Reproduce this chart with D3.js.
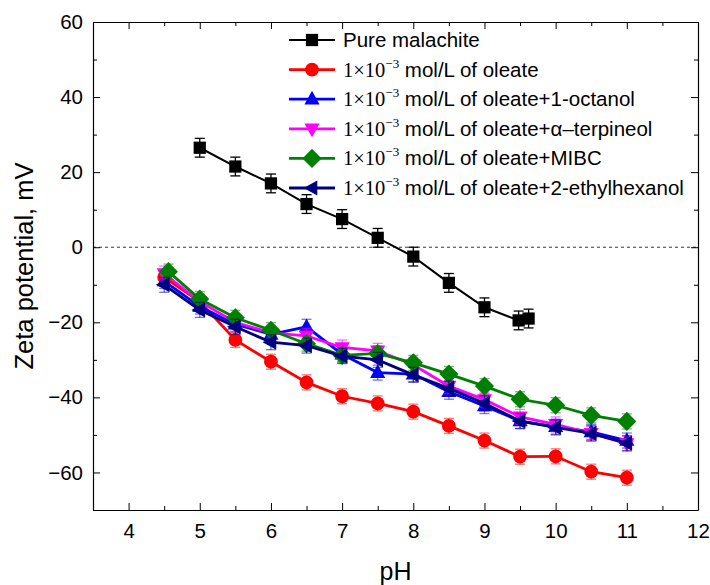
<!DOCTYPE html>
<html>
<head>
<meta charset="utf-8">
<script src="https://cdn.jsdelivr.net/npm/d3@7.9.0/dist/d3.min.js"></script>
<style>
  body { margin: 0; background: #fff; }
  svg text { font-family: Arial, "Liberation Sans", sans-serif; fill: #000; }
</style>
</head>
<body>
<svg id="chart" width="710" height="585"></svg>
<script>
// --- data ---
const seriesNames = [
  'Pure malachite',
  'oleate',
  'oleate+1-octanol',
  'oleate+\u03b1\u2013terpineol',
  'oleate+MIBC',
  'oleate+2-ethylhexanol'
];
const seriesColors = ['#000000', '#ff0000', '#0000ff', '#ff00ff', '#008000', '#000080'];
const seriesSymbols = ['square', 'circle', 'up', 'down', 'diamond', 'left'];

const phMalachite = [5, 5.5, 6, 6.5, 7, 7.5, 8, 8.5, 9, 9.48, 9.62];
const zetaMalachite = [26.5, 21.5, 17, 11.5, 7.5, 2.5, -2.5, -9.5, -16, -19.5, -19];

const phReagent = [4.5, 5, 5.5, 6, 6.5, 7, 7.5, 8, 8.5, 9, 9.5, 10, 10.5, 11];
const phMibc = [4.56, 5, 5.5, 6, 6.5, 7, 7.5, 8, 8.5, 9, 9.5, 10, 10.5, 11];
const zetaOleate = [-8, -14.5, -24.7, -30.5, -36, -39.7, -41.6, -43.8, -47.6, -51.5, -55.8, -55.7, -59.8, -61.4];
const zetaOctanol = [-9, -15.8, -20.5, -23.2, -21.2, -28.5, -33.4, -33.8, -38.5, -42.3, -46.3, -47.8, -49.2, -51.5];
const zetaTerpineol = [-7, -14.5, -20, -22.8, -23.6, -26.7, -27.6, -31.3, -37, -40.6, -45.2, -47.2, -49.6, -52.3];
const zetaMibc = [-6.5, -13.8, -18.8, -22.1, -25.7, -28.8, -28.3, -30.8, -33.8, -37, -40.5, -42.1, -44.8, -46.4];
const zetaEthylhexanol = [-10, -16.7, -21.2, -25.3, -26.2, -29, -30, -34, -37.6, -41.6, -46.3, -48, -49.6, -52.2];

const errMalachite = 2.5;
const errReagent = 2;

const xTicks = [4, 5, 6, 7, 8, 9, 10, 11, 12];
const yTicks = [-60, -40, -20, 0, 20, 40, 60];

const xTitle = 'pH';
const yTitle = 'Zeta potential, mV';

const allSeries = [
  { x: phMalachite, y: zetaMalachite, err: errMalachite },
  { x: phReagent, y: zetaOleate, err: errReagent },
  { x: phReagent, y: zetaOctanol, err: errReagent },
  { x: phReagent, y: zetaTerpineol, err: errReagent },
  { x: phMibc, y: zetaMibc, err: errReagent },
  { x: phReagent, y: zetaEthylhexanol, err: errReagent }
].map((s, i) => ({
  name: seriesNames[i],
  color: seriesColors[i],
  symbol: seriesSymbols[i],
  err: s.err,
  points: s.x.map((px, j) => ({ x: px, y: s.y[j] }))
}));

// --- layout ---
const svg = d3.select('#chart');
const plotL = 93, plotR = 698, plotT = 22, plotB = 510;

const x = d3.scaleLinear().domain([3.5, 12]).range([plotL, plotR]);
const y = d3.scaleLinear().domain([-70, 60]).range([plotB, plotT]);

// minor ticks
const xMinor = d3.range(3.5, 12.01, 0.5).filter(v => !xTicks.includes(v));
const yMinor = d3.range(-70, 60.01, 10).filter(v => !yTicks.includes(v));

// axes with inward ticks
function styleAxis(g) {
  g.select('.domain').attr('stroke', '#000').attr('stroke-width', 1.2);
  g.selectAll('.tick line').attr('stroke', '#000').attr('stroke-width', 1);
  g.selectAll('.tick text').attr('font-size', 20.5);
}

svg.append('g')
  .attr('transform', `translate(0,${plotB})`)
  .call(d3.axisBottom(x).tickValues(xTicks).tickFormat(d3.format('d')).tickSizeInner(-7).tickSizeOuter(0).tickPadding(13))
  .call(styleAxis);
svg.append('g')
  .attr('transform', `translate(0,${plotB})`)
  .call(d3.axisBottom(x).tickValues(xMinor).tickFormat('').tickSizeInner(-4).tickSizeOuter(0))
  .call(g => g.select('.domain').remove())
  .call(styleAxis);

svg.append('g')
  .attr('transform', `translate(0,${plotT})`)
  .call(d3.axisTop(x).tickValues(xTicks).tickFormat('').tickSizeInner(-7).tickSizeOuter(0))
  .call(styleAxis);
svg.append('g')
  .attr('transform', `translate(0,${plotT})`)
  .call(d3.axisTop(x).tickValues(xMinor).tickFormat('').tickSizeInner(-4).tickSizeOuter(0))
  .call(g => g.select('.domain').remove())
  .call(styleAxis);

svg.append('g')
  .attr('transform', `translate(${plotL},0)`)
  .call(d3.axisLeft(y).tickValues(yTicks).tickFormat(d3.format('d')).tickSizeInner(-7).tickSizeOuter(0).tickPadding(10))
  .call(styleAxis);
svg.append('g')
  .attr('transform', `translate(${plotL},0)`)
  .call(d3.axisLeft(y).tickValues(yMinor).tickFormat('').tickSizeInner(-4).tickSizeOuter(0))
  .call(g => g.select('.domain').remove())
  .call(styleAxis);

svg.append('g')
  .attr('transform', `translate(${plotR},0)`)
  .call(d3.axisRight(y).tickValues(yTicks).tickFormat('').tickSizeInner(-7).tickSizeOuter(0))
  .call(styleAxis);
svg.append('g')
  .attr('transform', `translate(${plotR},0)`)
  .call(d3.axisRight(y).tickValues(yMinor).tickFormat('').tickSizeInner(-4).tickSizeOuter(0))
  .call(g => g.select('.domain').remove())
  .call(styleAxis);

// zero line
svg.append('line')
  .attr('x1', plotL).attr('x2', plotR)
  .attr('y1', y(0)).attr('y2', y(0))
  .attr('stroke', '#000').attr('stroke-width', 0.8)
  .attr('stroke-dasharray', '3,3');

// axis titles
svg.append('text')
  .attr('x', (plotL + plotR) / 2).attr('y', 580)
  .attr('text-anchor', 'middle').attr('font-size', 25)
  .text(xTitle);
svg.append('text')
  .attr('transform', `translate(33,${(plotT + plotB) / 2}) rotate(-90)`)
  .attr('text-anchor', 'middle').attr('font-size', 25.5)
  .text(yTitle);

// markers
function symbolPath(kind, size) {
  if (kind === 'square') return d3.symbol(d3.symbolSquare, size)();
  if (kind === 'circle') return d3.symbol(d3.symbolCircle, size)();
  if (kind === 'diamond') {
    const r = Math.sqrt(size) * 0.78;
    return `M0,${-r}L${r},0L0,${r}L${-r},0Z`;
  }
  const r = Math.sqrt(size) * 0.62;
  const tri = [[0, -r * 1.1], [r, r * 0.7], [-r, r * 0.7]];
  const rot = kind === 'up' ? 0 : kind === 'down' ? Math.PI : -Math.PI / 2;
  const pts = tri.map(([px, py]) => [px * Math.cos(rot) - py * Math.sin(rot), px * Math.sin(rot) + py * Math.cos(rot)]);
  return 'M' + pts.map(p => p.join(',')).join('L') + 'Z';
}

const line = d3.line().x(d => x(d.x)).y(d => y(d.y));

allSeries.forEach((s, i) => {
  const g = svg.append('g');
  const lw = i === 0 ? 2 : 2.8;

  // error bars
  const eb = g.selectAll('.eb').data(s.points).enter().append('g')
    .attr('stroke', s.color)
    .attr('stroke-opacity', i === 0 ? 1 : 0.55)
    .attr('stroke-width', 1.3);
  eb.append('line')
    .attr('x1', d => x(d.x)).attr('x2', d => x(d.x))
    .attr('y1', d => y(d.y - s.err)).attr('y2', d => y(d.y + s.err));
  eb.append('line')
    .attr('x1', d => x(d.x) - 5).attr('x2', d => x(d.x) + 5)
    .attr('y1', d => y(d.y + s.err)).attr('y2', d => y(d.y + s.err));
  eb.append('line')
    .attr('x1', d => x(d.x) - 5).attr('x2', d => x(d.x) + 5)
    .attr('y1', d => y(d.y - s.err)).attr('y2', d => y(d.y - s.err));

  g.append('path')
    .datum(s.points)
    .attr('d', line)
    .attr('fill', 'none')
    .attr('stroke', s.color)
    .attr('stroke-width', lw);

  g.selectAll('.mk').data(s.points).enter().append('path')
    .attr('d', symbolPath(s.symbol, 150))
    .attr('transform', d => `translate(${x(d.x)},${y(d.y)})`)
    .attr('fill', s.color);
});

// legend
const legend = svg.append('g');
const legX0 = 289, legX1 = 335, legTextX = 343, legY0 = 40, legDy = 29.6;
allSeries.forEach((s, i) => {
  const ly = legY0 + i * legDy;
  legend.append('line')
    .attr('x1', legX0).attr('x2', legX1).attr('y1', ly).attr('y2', ly)
    .attr('stroke', s.color).attr('stroke-width', i === 0 ? 2 : 2.8);
  legend.append('path')
    .attr('d', symbolPath(s.symbol, 150))
    .attr('transform', `translate(${(legX0 + legX1) / 2},${ly})`)
    .attr('fill', s.color);
  const t = legend.append('text')
    .attr('x', legTextX).attr('y', ly + 7)
    .attr('font-size', 20.5);
  if (i === 0) {
    t.text(s.name);
  } else {
    t.append('tspan').attr('font-family', '"Liberation Serif", "Times New Roman", serif').text('1\u00d710');
    t.append('tspan').attr('font-family', '"Liberation Serif", "Times New Roman", serif')
      .attr('font-size', 13).attr('dy', -9).text('\u22123');
    t.append('tspan').attr('dy', 9).text(' mol/L of ' + s.name);
  }
});
</script>
</body>
</html>
